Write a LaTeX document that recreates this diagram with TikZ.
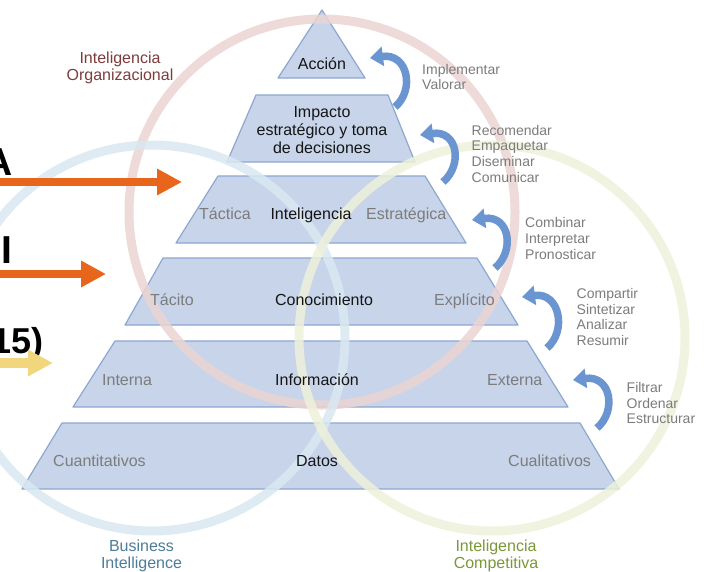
\documentclass[tikz,border=0pt]{standalone}
\usepackage{fontspec}
\setmainfont{Liberation Sans}
\usetikzlibrary{arrows.meta}

\definecolor{nivelfill}{HTML}{C7D4E9}
\definecolor{nivelborde}{HTML}{8DA7D1}
\definecolor{gristexto}{HTML}{7C7C7C}
\definecolor{negrotexto}{HTML}{151515}
\definecolor{rojocirc}{HTML}{EBD4D3}
\definecolor{azulcirc}{HTML}{DAE8F2}
\definecolor{verdecirc}{HTML}{EDF1DA}
\definecolor{rojotexto}{HTML}{7E3C3C}
\definecolor{azultexto}{HTML}{4D7D98}
\definecolor{verdetexto}{HTML}{7A9838}
\definecolor{flechaazul}{HTML}{6A95D1}
\definecolor{naranja}{HTML}{E8651C}
\definecolor{amarillo}{HTML}{F1D67E}

\begin{document}
\begin{tikzpicture}[x=1pt, y=-1pt,
    nivel/.style={fill=nivelfill, draw=nivelborde, line width=1.2pt, line join=round},
    circulo/.style={line width=9pt, opacity=.85},
    titulo/.style={font=\fontsize{16}{18}\selectfont, text=negrotexto, align=center, inner sep=0pt},
    lado/.style={font=\fontsize{16}{18}\selectfont, text=gristexto, inner sep=0pt, anchor=base west},
    proceso/.style={font=\fontsize{14}{15.7}\selectfont, text=gristexto, align=left, inner sep=0pt, anchor=north west},
    enfoque/.style={font=\fontsize{16}{17}\selectfont, align=center, inner sep=0pt, anchor=north},
    flecha/.style={draw=flechaazul, line width=7.5pt, -{Triangle[length=13pt,width=19pt]}},
    gruesa/.style={line width=8.5pt, -{Triangle[length=25pt,width=25pt]}},
    grande/.style={font=\fontsize{39}{39}\selectfont\bfseries, inner sep=0pt, anchor=base east}]

  \useasboundingbox (0,0) rectangle (708,571);
  \clip (0,0) rectangle (708,571);
  \fill[white] (0,0) rectangle (708,571);

  \draw[nivel] (322,10) -- (365,78) -- (278,78) -- cycle;
  \draw[nivel] (256,95) -- (388,95) -- (415,162) -- (227,162) -- cycle;
  \draw[nivel] (218,176) -- (425,176) -- (466,243) -- (176,243) -- cycle;
  \draw[nivel] (163,258) -- (477,258) -- (518,325) -- (125,325) -- cycle;
  \draw[nivel] (115,341) -- (527,341) -- (568,407) -- (73,407) -- cycle;
  \draw[nivel] (62,423) -- (580,423) -- (619,489) -- (22,489) -- cycle;

  \draw[circulo, draw=rojocirc] (322,212) circle[radius=193pt];
  \draw[circulo, draw=azulcirc] (152,338) circle[radius=193pt];
  \draw[circulo, draw=verdecirc] (492,338) circle[radius=193pt];

  \node[titulo, anchor=base] (accion) at (322,69) {Acción};
  \node[titulo] (impacto) at (322,130.5) {Impacto\\estratégico y toma\\de decisiones};
  \node[titulo, anchor=base] (inteligencia) at (311,219) {Inteligencia};
  \node[titulo, anchor=base] (conocimiento) at (324,305.5) {Conocimiento};
  \node[titulo, anchor=base] (informacion) at (317,385) {Información};
  \node[titulo, anchor=base] (datos) at (317,466) {Datos};

  \node[lado] (tactica) at (199,219) {Táctica};
  \node[lado] (estrategica) at (366,219) {Estratégica};
  \node[lado] (tacito) at (150,305) {Tácito};
  \node[lado] (explicito) at (434,305) {Explícito};
  \node[lado] (interna) at (102,385) {Interna};
  \node[lado] (externa) at (487,385) {Externa};
  \node[lado] (cuanti) at (53,466) {Cuantitativos};
  \node[lado] (cuali) at (508,466) {Cualitativos};

  \node[proceso] (p1) at (422,63.8) {Implementar\\Valorar};
  \node[proceso] (p2) at (471.5,124.8) {Recomendar\\Empaquetar\\Diseminar\\Comunicar};
  \node[proceso] (p3) at (525,217.5) {Combinar\\Interpretar\\Pronosticar};
  \node[proceso] (p4) at (576.5,288.1) {Compartir\\Sintetizar\\Analizar\\Resumir};
  \node[proceso] (p5) at (626.5,382.1) {Filtrar\\Ordenar\\Estructurar};

  \node[enfoque, text=rojotexto] (organizacional) at (120,52) {Inteligencia\\Organizacional};
  \node[enfoque, text=azultexto] (business) at (141.5,539.2) {Business\\Intelligence};
  \node[enfoque, text=verdetexto] (competitiva) at (496,539.2) {Inteligencia\\Competitiva};

  \coordinate (t1) at (395,107); \coordinate (f1) at (370,58);
  \coordinate (t2) at (443,182); \coordinate (f2) at (420,135);
  \coordinate (t3) at (495,268); \coordinate (f3) at (472,220);
  \coordinate (t4) at (547,348); \coordinate (f4) at (522,297);
  \coordinate (t5) at (597,428); \coordinate (f5) at (573,380);
  \foreach \i in {1,...,5}
    \draw[flecha] (t\i) .. controls ([shift={(20,-17)}]t\i) and ([shift={(38,-5)}]f\i) .. (f\i);

  \node[grande] (letraA) at (13,175) {A};
  \node[grande] (letraI) at (12.5,263) {I};
  \node[grande, font=\fontsize{36}{36}\selectfont\bfseries] (numero) at (44,353) {15)};

  \coordinate (oa) at (-5,182); \coordinate (oafin) at (182,182);
  \coordinate (ob) at (-5,274); \coordinate (obfin) at (106,274);
  \coordinate (oc) at (-5,363); \coordinate (ocfin) at (53,363);
  \draw[gruesa, draw=naranja, fill=naranja] (oa) -- (oafin);
  \draw[gruesa, draw=naranja, fill=naranja] (ob) -- (obfin);
  \draw[gruesa, line width=10pt, draw=amarillo, fill=amarillo] (oc) -- (ocfin);
\end{tikzpicture}
\end{document}
